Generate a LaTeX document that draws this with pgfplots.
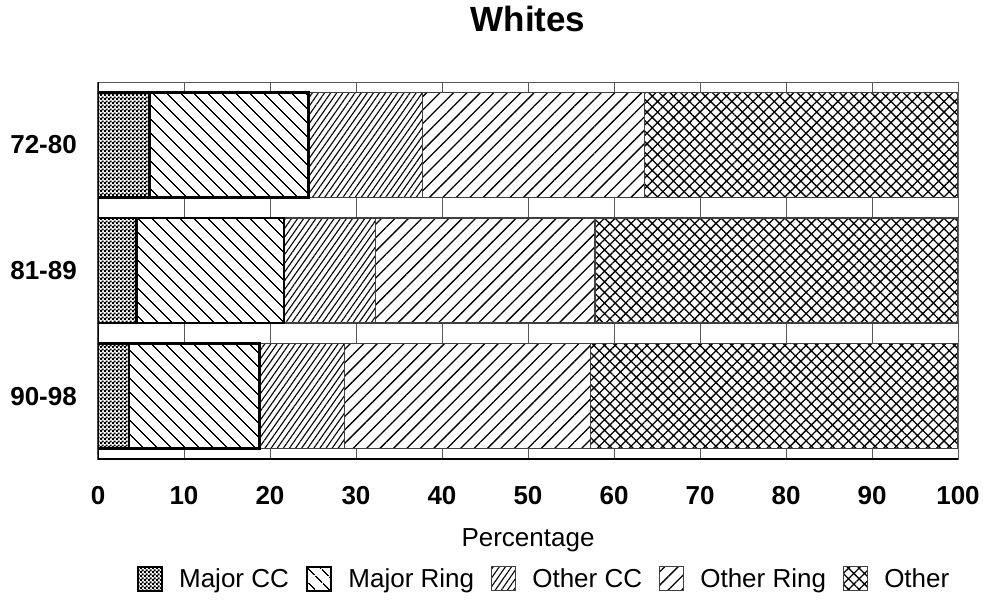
\documentclass[border=0pt]{standalone}
\usepackage{pgfplots}
\pgfplotsset{compat=1.18}
\usepackage{fontspec}
\setmainfont{Liberation Sans}
\usetikzlibrary{patterns,patterns.meta}
\pgfdeclarepatternformonly{checker}{\pgfpointorigin}{\pgfpoint{4pt}{4pt}}{\pgfpoint{4pt}{4pt}}{%
  \pgfpathrectangle{\pgfpointorigin}{\pgfpoint{2.3pt}{2.3pt}}%
  \pgfpathrectangle{\pgfpoint{2pt}{2pt}}{\pgfpoint{2.3pt}{2.3pt}}%
  \pgfusepath{fill}}
\begin{document}
\begin{tikzpicture}[x=1pt,y=1pt]
\useasboundingbox (0,0) rectangle (983,600);
\begin{axis}[
  at={(98pt,141pt)}, anchor=south west,
  scale only axis, width=860pt, height=377pt,
  xbar stacked, bar width=105pt,
  xmin=0, xmax=100, ymin=-0.5, ymax=2.5,
  xtick={0,10,...,100}, ytick={0,1,2},
  yticklabels={90-98,81-89,72-80},
  /pgf/number format/assume math mode=true,
  major tick length=0pt,
  xmajorgrids, major grid style={black!65, line width=1pt},
  axis line style={black!65, line width=1pt},
  tick label style={font=\fontsize{26}{30}\selectfont\bfseries, inner sep=0pt},
  yticklabel style={anchor=east},
  yticklabel shift=21pt,
  xticklabel style={anchor=north},
  xticklabel shift=27pt,
  xlabel={Percentage},
  xlabel style={font=\fontsize{26}{30}\selectfont, at={(rel axis cs:0.5,0)}, anchor=north, yshift=-69pt, inner sep=0pt},
  title={Whites},
  title style={font=\fontsize{35}{40}\selectfont\bfseries, at={(rel axis cs:0.5,1)}, anchor=south, yshift=44pt, inner sep=0pt},
  legend columns=5,
  legend style={draw=none, fill=none, at={(0.5174,-0.318)}, anchor=center,
    font=\fontsize{26}{30}\selectfont, nodes={inner sep=0pt, anchor=west},
    /tikz/every odd column/.append style={column sep=16pt},
    /tikz/every even column/.append style={column sep=17pt}},
  legend image code/.code={\draw[#1] (0pt,-12pt) rectangle (24pt,12pt);},
]
\addplot[draw=black, line width=2.5pt, fill=white, postaction={pattern=checker, pattern color=black}]
  coordinates {(3.6,0) (4.5,1) (6.0,2)};
\addplot[draw=black, line width=2.5pt, fill=white, postaction={pattern={Lines[angle=-45, distance=10.5pt, line width=1.3pt]}, pattern color=black}]
  coordinates {(15.2,0) (17.1,1) (18.45,2)};
\addplot[draw=black!75, line width=1.2pt, fill=white, postaction={pattern={Lines[angle=55, distance=5pt, line width=1.1pt]}, pattern color=black}]
  coordinates {(9.9,0) (10.7,1) (13.25,2)};
\addplot[draw=black!75, line width=1.2pt, fill=white, postaction={pattern={Lines[angle=45, distance=9.5pt, line width=1.3pt]}, pattern color=black}]
  coordinates {(28.6,0) (25.5,1) (25.8,2)};
\addplot[draw=black!75, line width=1.2pt, fill=white, postaction={pattern={Hatch[angle=45, distance=7.5pt, line width=1.3pt]}, pattern color=black}]
  coordinates {(42.7,0) (42.2,1) (36.5,2)};
\legend{Major CC, Major Ring, Other CC, Other Ring, Other}
\draw[black, line width=3pt] (rel axis cs:0,1) -- (rel axis cs:0,0) -- (rel axis cs:1,0);
\end{axis}
\end{tikzpicture}
\end{document}
